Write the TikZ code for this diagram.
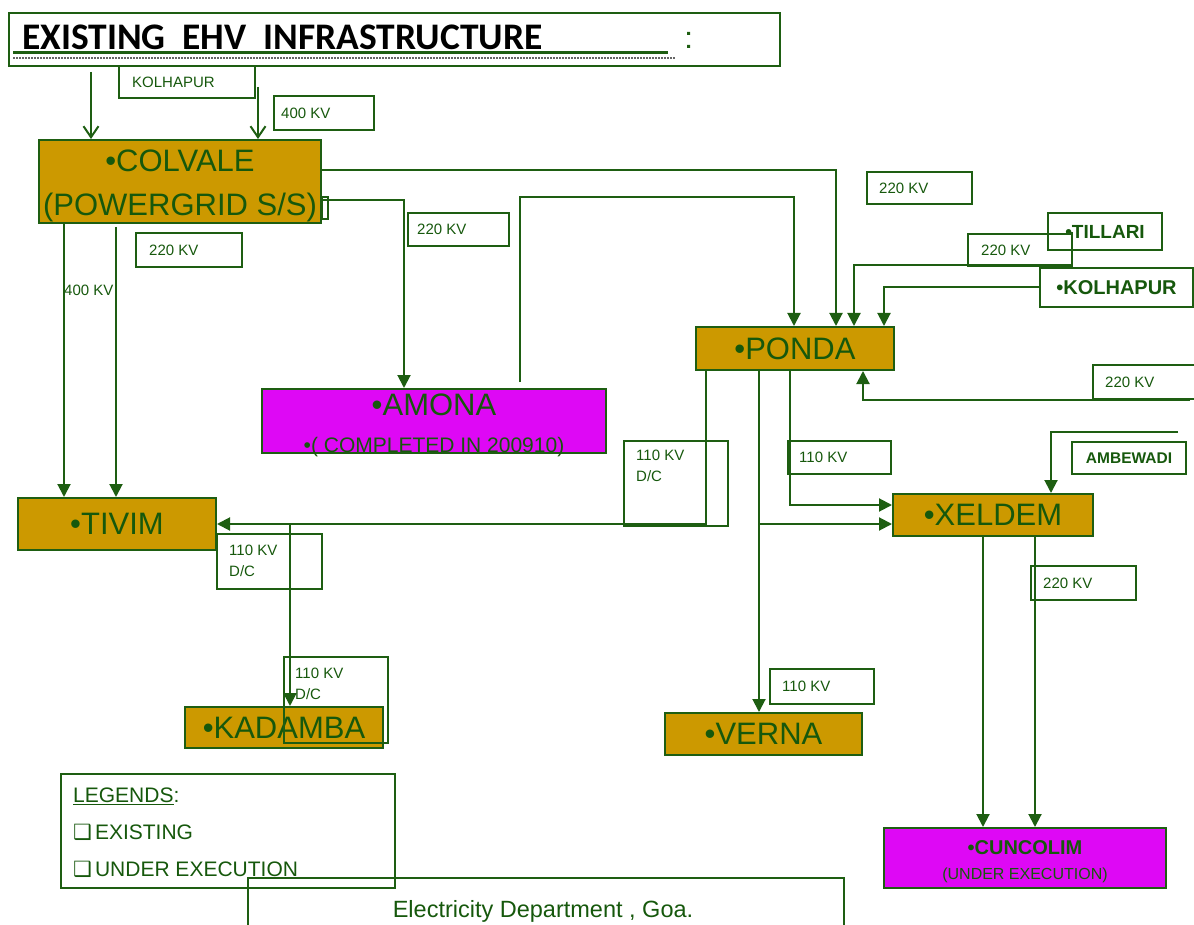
\documentclass[tikz,border=0pt]{standalone}
\usepackage{fontspec}
\setmainfont{Liberation Sans}
\newfontfamily\carlito{Carlito}
\newfontfamily\dejavu{DejaVu Sans}
\usepackage{xcolor}
\usetikzlibrary{positioning, arrows.meta}

\definecolor{edgegreen}{RGB}{30,94,18}
\definecolor{textgreen}{RGB}{22,88,12}
\definecolor{gold}{RGB}{204,153,0}
\definecolor{magfill}{RGB}{222,8,245}

\newcommand{\lowered}[1]{\raisebox{-4pt}[\height][\depth]{#1}}

\tikzset{
  station/.style={draw=edgegreen, line width=2pt, fill=gold, text=textgreen, inner sep=0pt, align=center, font=\fontsize{31}{31}\selectfont},
  newstation/.style={station, fill=magfill},
  place/.style={draw=edgegreen, line width=2pt, text=textgreen, inner sep=0pt, font=\bfseries\fontsize{19}{19}\selectfont},
  kvbox/.style={draw=edgegreen, line width=2pt, inner sep=0pt, anchor=north west},
  kvtext/.style={text=textgreen, inner sep=0pt, font=\fontsize{15}{21}\selectfont, align=left},
  feed/.style={draw=edgegreen, line width=2pt, -{Triangle[length=13pt, width=13pt]}},
  feedopen/.style={draw=edgegreen, line width=2pt, -{Straight Barb[length=11pt, width=15pt]}},
}

\begin{document}
\begin{tikzpicture}[x=1pt, y=-1pt]
\useasboundingbox (0,0) rectangle (1194,925);

% title
\node[kvbox, minimum width=771, minimum height=53] (titlebox) at (8,12) {};
\node[anchor=base west, inner sep=0pt, font=\carlito\bfseries\fontsize{37.5}{37.5}\selectfont] (title) at (22,50) {EXISTING\ \ EHV\ \ INFRASTRUCTURE};
\draw[edgegreen, line width=3pt] (13,53) -- (668,53);
\draw[black!60, line width=2pt, densely dotted] (13,58) -- (675,58);
\fill[edgegreen] (687,32) rectangle ++(3,3) (687,45) rectangle ++(3,3);

% stations
\node[station, minimum width=282, minimum height=83, font=\fontsize{31}{44}\selectfont] (colvale) at (180,181.5) {\lowered{•COLVALE}\\\lowered{(POWERGRID S/S)}};
\draw[edgegreen, line width=1.5pt] ([yshift=-15.5pt]colvale.east) rectangle ++(6,22);
\node[newstation, minimum width=344, minimum height=64, font=\fontsize{21}{37}\selectfont] (amona) at (434,421) {\lowered{\fontsize{31}{31}\selectfont •AMONA}\\\lowered{•( COMPLETED IN 200910)}};
\node[station, minimum width=198, minimum height=43] (ponda) at (795,348.5) {•PONDA};
\node[station, minimum width=200, minimum height=42] (xeldem) at (993,515) {•XELDEM};
\node[station, minimum width=198, minimum height=52] (tivim) at (117,524) {•TIVIM};
\node[station, minimum width=198, minimum height=41] (kadamba) at (284,727.5) {•KADAMBA};
\node[station, minimum width=197, minimum height=42] (verna) at (763.5,734) {•VERNA};
\node[newstation, minimum width=282, minimum height=60, font=\fontsize{16}{25}\selectfont] (cuncolim) at (1025,858) {\lowered{\bfseries\fontsize{20}{20}\selectfont •CUNCOLIM}\\\lowered{(UNDER EXECUTION)}};

% outside sources
\node[place, minimum width=114, minimum height=37] (tillari) at (1105,231.5) {•TILLARI};
\node[place, minimum width=153, minimum height=39, font=\bfseries\fontsize{20}{20}\selectfont] (kolhapurR) at (1116.5,287.5) {•KOLHAPUR};
\node[place, minimum width=114, minimum height=32, font=\bfseries\fontsize{15.5}{15.5}\selectfont] (ambewadi) at (1129,458) {AMBEWADI};
\node[kvbox, minimum width=136, minimum height=32] (kolhapurT) at (118,65) {};
\node[kvtext, right=14pt of kolhapurT.west] (kolhapurTt) {KOLHAPUR};

% voltage labels
\node[kvbox, minimum width=100, minimum height=34] (kvA) at (273,95) {};
\node[kvtext, right=8pt of kvA.west] (kvAt) {400 KV};
\node[kvbox, minimum width=106, minimum height=34] (kvB) at (135,232) {};
\node[kvtext, right=14pt of kvB.west] (kvBt) {220 KV};
\node[kvbox, minimum width=101, minimum height=33] (kvC) at (407,212) {};
\node[kvtext, right=10pt of kvC.west] (kvCt) {220 KV};
\node[kvbox, minimum width=105, minimum height=32] (kvD) at (866,171) {};
\node[kvtext, right=13pt of kvD.west] (kvDt) {220 KV};
\node[kvbox, minimum width=104, minimum height=32] (kvE) at (967,233) {};
\node[kvtext, right=14pt of kvE.west] (kvEt) {220 KV};
\node[kvbox, minimum width=104, minimum height=34] (kvF) at (1092,364) {};
\node[kvtext, right=13pt of kvF.west] (kvFt) {220 KV};
\node[kvbox, minimum width=104, minimum height=85] (kvG) at (623,440) {};
\node[kvtext, below right=10pt and 13pt of kvG.north west] (kvGt) {110 KV\\D/C};
\node[kvbox, minimum width=103, minimum height=33] (kvH) at (787,440) {};
\node[kvtext, right=12pt of kvH.west] (kvHt) {110 KV};
\node[kvbox, minimum width=105, minimum height=34] (kvI) at (1030,565) {};
\node[kvtext, right=13pt of kvI.west] (kvIt) {220 KV};
\node[kvbox, minimum width=105, minimum height=55] (kvJ) at (216,533) {};
\node[kvtext, below right=12pt and 13pt of kvJ.north west] (kvJt) {110 KV\\D/C};
\node[kvbox, minimum width=104, minimum height=86] (kvK) at (283,656) {};
\node[kvtext, below right=12pt and 12pt of kvK.north west] (kvKt) {110 KV\\D/C};
\node[kvbox, minimum width=104, minimum height=35] (kvL) at (769,668) {};
\node[kvtext, right=13pt of kvL.west] (kvLt) {110 KV};
\node[kvtext, anchor=west] (kvM) at (64,290) {400 KV};

% into colvale
\coordinate (kolIn) at (91,72);
\coordinate (kvIn) at (258,87);
\draw[feedopen] (kolIn) -- (kolIn |- colvale.north);
\draw[feedopen] (kvIn) -- (kvIn |- colvale.north);

% colvale feeders
\draw[feed] ([yshift=11.5pt]colvale.east) -| ([xshift=41pt]ponda.north);
\draw[feed] ([yshift=-18.5pt]colvale.east) -| ([xshift=-30pt]amona.north);
\draw[feed] ([xshift=86pt, yshift=6pt]amona.north) -- ++(0,-185) -| ([xshift=-1pt]ponda.north);
\draw[feed] ([xshift=-116pt]colvale.south) -- ([xshift=-116pt]colvale.south |- tivim.north);
\draw[feed] ([xshift=-64pt, yshift=-3pt]colvale.south) -- ([xshift=-64pt]colvale.south |- tivim.north);

% into ponda from the east
\draw[feed] (kolhapurR.west) -| ([xshift=89pt]ponda.north);
\draw[feed] ([xshift=19pt, yshift=-1.5pt]tillari.west) -- ++(6,0) -- ++(0,32) -| ([xshift=59pt]ponda.north);
\coordinate (kvInF) at (1190,400);
\draw[feed] (kvInF) -| ([xshift=68pt]ponda.south);

% ponda feeders
\coordinate (tapT) at ([xshift=-89pt]ponda.south);
\draw[feed] (tapT) |- (tivim.east);
\coordinate (tapK) at ([xshift=73pt]tivim.east);
\draw[feed] (tapK) -- (tapK |- kadamba.north);
\coordinate (tapV) at ([xshift=-36pt]ponda.south);
\draw[feed] (tapV) -- (tapV |- verna.north);
\draw[feed] ([yshift=-9pt]tapV |- xeldem.west) -- ([yshift=-9pt]xeldem.west);
\draw[feed] ([xshift=-5pt]ponda.south) |- ([yshift=10pt]xeldem.west);

% xeldem
\coordinate (ambIn) at (1178,432);
\draw[feed] (ambIn) -| ([xshift=58pt]xeldem.north);
\draw[feed] ([xshift=-10pt]xeldem.south) -- ([xshift=-10pt]xeldem.south |- cuncolim.north);
\draw[feed] ([xshift=42pt]xeldem.south) -- ([xshift=42pt]xeldem.south |- cuncolim.north);

% legend and footer
\node[kvbox, minimum width=334, minimum height=114] (legend) at (60,773) {};
\node[kvtext, font=\fontsize{21}{37}\selectfont, below right=15pt and 13pt of legend.north west] (legendt) {\underline{LEGENDS}:\\{\dejavu\fontsize{21}{21}\selectfont ❑}\hspace{3pt}EXISTING\\{\dejavu\fontsize{21}{21}\selectfont ❑}\hspace{3pt}UNDER EXECUTION};
\node[kvbox, minimum width=596, minimum height=70] (footbox) at (247,877) {};
\node[inner sep=0pt, text=textgreen, font=\fontsize{23.5}{23.5}\selectfont] (footer) at (543,911) {Electricity Department , Goa.};
\end{tikzpicture}
\end{document}
